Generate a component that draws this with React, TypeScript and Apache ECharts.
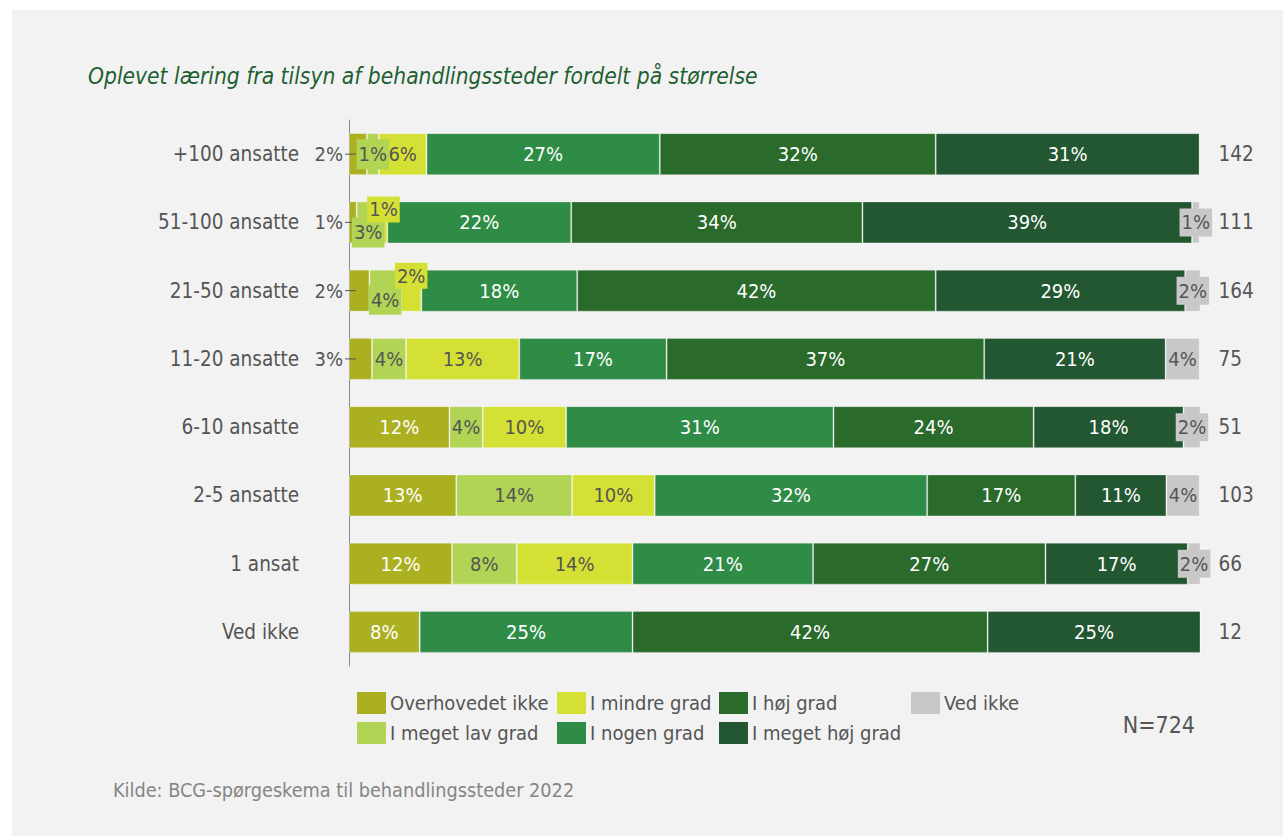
import React, { useEffect, useRef } from "react";
import * as echarts from "echarts";

const categories = ["+100 ansatte", "51-100 ansatte", "21-50 ansatte", "11-20 ansatte", "6-10 ansatte", "2-5 ansatte", "1 ansat", "Ved ikke"];
const respondents = ["142", "111", "164", "75", "51", "103", "66", "12"];
const overhovedetIkke = [2.1, 0.9, 2.4, 2.7, 11.8, 12.6, 12.1, 8.3];
const megetLavGrad = [1.4, 2.7, 3.7, 4.0, 3.9, 13.6, 7.6, 0];
const mindreGrad = [5.6, 0.9, 2.4, 13.3, 9.8, 9.7, 13.6, 0];
const nogenGrad = [27.4, 21.6, 18.3, 17.3, 31.4, 32.0, 21.2, 25.0];
const hojGrad = [32.4, 34.2, 42.1, 37.3, 23.5, 17.4, 27.3, 41.7];
const megetHojGrad = [31.0, 38.7, 29.3, 21.3, 17.6, 10.7, 16.7, 25.0];
const vedIkke = [0, 0.9, 1.8, 4.0, 2.0, 3.9, 1.5, 0];
const seriesNames = ["Overhovedet ikke", "I meget lav grad", "I mindre grad", "I nogen grad", "I høj grad", "I meget høj grad", "Ved ikke"];
const totalN = "N=724";
const titleText = "Oplevet læring fra tilsyn af behandlingssteder fordelt på størrelse";
const sourceText = "Kilde: BCG-spørgeskema til behandlingssteder 2022";

const FONT = "'DejaVu Sans Condensed', 'DejaVu Sans', sans-serif";
const GRAY_TEXT = "#555555";
const COLORS = ["#aab01f", "#b1d454", "#d5e034", "#2f8c46", "#2a6b2c", "#225732", "#c8c8c8"];

const pct = (v: number) => Math.round(v) + "%";

function makeSeries(name: string, values: number[], color: string, labelColor: string, overrides: Record<number, any>) {
  return {
    name,
    type: "bar",
    stack: "total",
    barWidth: 42,
    itemStyle: { color, borderColor: "rgba(255,255,255,0.3)", borderWidth: 1 },
    label: {
      show: true,
      position: "inside",
      color: labelColor,
      fontSize: 20,
      fontFamily: FONT,
      formatter: (p: any) => (p.value > 0 ? pct(p.value) : ""),
    },
    data: values.map((v, i) => (overrides[i] ? { value: v, label: overrides[i] } : { value: v })),
  };
}

export default function App() {
  const ref = useRef<HTMLDivElement>(null);
  useEffect(() => {
    if (!ref.current) return;
    const chart = echarts.init(ref.current, null, { renderer: "svg" });
    const oliveOut = {
      position: "left",
      distance: -7,
      formatter: (p: any) => `{t|${pct(p.value)}}{d|}`,
      rich: {
        t: { color: GRAY_TEXT, fontSize: 20, fontFamily: FONT, padding: [0, 2, 0, 0] },
        d: { width: 11, height: 1, backgroundColor: GRAY_TEXT },
      },
    };
    const lgBox = (dy: number) => ({ backgroundColor: COLORS[1], padding: [5, 2], offset: [0, dy] });
    const yBox = (dy: number) => ({ backgroundColor: COLORS[2], padding: [3, 2], offset: [0, dy] });
    const grayBox = { backgroundColor: COLORS[6], padding: [4, 2] };
    const option: any = {
      animation: false,
      textStyle: { fontFamily: FONT },
      graphic: [
        { type: "rect", shape: { x: 12, y: 10, width: 1283, height: 836 }, style: { fill: "#f2f2f2" }, z: -10, silent: true },
        { type: "text", x: 88, y: 76, style: { text: titleText, fill: "#1d5f30", fontSize: 22.6, fontStyle: "italic", fontFamily: FONT, textVerticalAlign: "middle" } },
        { type: "text", x: 1195, y: 725, style: { text: totalN, fill: GRAY_TEXT, fontSize: 23, fontFamily: FONT, textAlign: "right", textVerticalAlign: "middle" } },
        { type: "text", x: 113, y: 790, style: { text: sourceText, fill: "#858585", fontSize: 19.7, fontFamily: FONT, textVerticalAlign: "middle" } },
      ],
      legend: [
        [seriesNames[0], seriesNames[1]],
        [seriesNames[2], seriesNames[3]],
        [seriesNames[4], seriesNames[5]],
        [seriesNames[6]],
      ].map((d, k) => ({
        orient: "vertical",
        left: [357, 557, 719, 911][k],
        top: 692,
        padding: 0,
        itemWidth: 29,
        itemHeight: 22,
        itemGap: 8,
        icon: "rect",
        itemStyle: { borderWidth: 0 },
        selectedMode: false,
        data: d,
        textStyle: { fontSize: 20, color: GRAY_TEXT, fontFamily: FONT, padding: [0, 0, 0, -1] },
      })),
      grid: { left: 349, right: 82.5, top: 120, bottom: 170, containLabel: false },
      xAxis: { type: "value", min: 0, max: 100, show: false },
      yAxis: [
        {
          type: "category",
          data: categories,
          inverse: true,
          axisLine: { show: true, lineStyle: { color: "#8c8c8c", width: 1 } },
          axisTick: { show: false },
          axisLabel: { interval: 0, margin: 50, fontSize: 20.5, color: GRAY_TEXT, fontFamily: FONT },
        },
        {
          type: "category",
          data: respondents,
          inverse: true,
          position: "right",
          axisLine: { show: false },
          axisTick: { show: false },
          axisLabel: { interval: 0, margin: 18, fontSize: 20.5, color: GRAY_TEXT, fontFamily: FONT },
        },
      ],
      series: [
        makeSeries(seriesNames[0], overhovedetIkke, COLORS[0], "#ffffff", { 0: oliveOut, 1: oliveOut, 2: oliveOut, 3: oliveOut }),
        makeSeries(seriesNames[1], megetLavGrad, COLORS[1], GRAY_TEXT, { 0: lgBox(0), 1: lgBox(10), 2: lgBox(9) }),
        makeSeries(seriesNames[2], mindreGrad, COLORS[2], GRAY_TEXT, { 1: yBox(-13), 2: yBox(-15) }),
        makeSeries(seriesNames[3], nogenGrad, COLORS[3], "#ffffff", {}),
        makeSeries(seriesNames[4], hojGrad, COLORS[4], "#ffffff", {}),
        makeSeries(seriesNames[5], megetHojGrad, COLORS[5], "#ffffff", {}),
        makeSeries(seriesNames[6], vedIkke, COLORS[6], GRAY_TEXT, { 1: grayBox, 2: grayBox, 4: grayBox, 6: grayBox }),
      ],
    };
    chart.setOption(option);
    return () => chart.dispose();
  }, []);
  return (
    <div style={{ position: "fixed", left: 0, top: 0, width: 1283, height: 836, background: "#ffffff" }}>
      <div ref={ref} style={{ width: 1283, height: 836 }} />
    </div>
  );
}
